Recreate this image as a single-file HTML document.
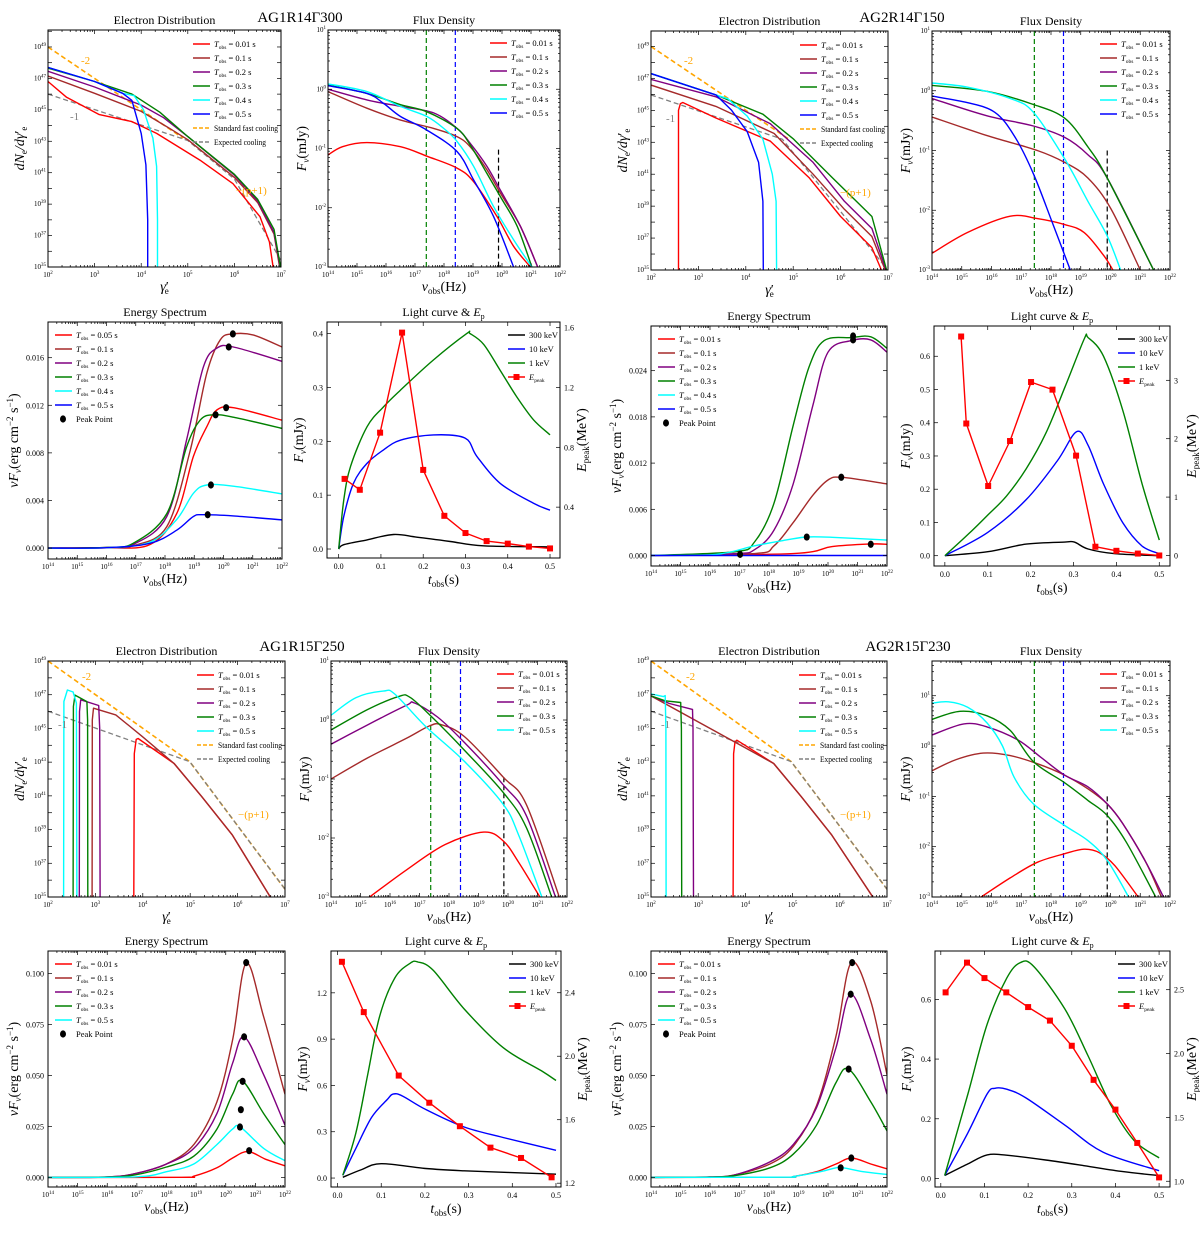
<!DOCTYPE html>
<html><head><meta charset="utf-8"><title>GRB simulation panels</title>
<style>
html,body{margin:0;padding:0;background:#fff;}
svg{display:block;font-family:"Liberation Serif",serif;}
</style></head>
<body>
<svg id="fig" width="1200" height="1239" viewBox="0 0 1200 1239" xmlns="http://www.w3.org/2000/svg">
<rect x="0" y="0" width="1200" height="1239" fill="#fff"/>
<text x="300" y="22" font-size="15" text-anchor="middle">AG1R14Γ300</text>
<text x="902" y="22" font-size="15" text-anchor="middle">AG2R14Γ150</text>
<text x="302" y="651" font-size="15" text-anchor="middle">AG1R15Γ250</text>
<text x="908" y="651" font-size="15" text-anchor="middle">AG2R15Γ230</text>
</svg>
<script>
// ================= DATA (log10 values for log axes; energy spectrum in units of 1e-3) =================
// ---- Group A: AG1R14Γ300 ----
const A_ed_t001=[[2,46.8],[2.4,45.8],[3.1,44.7],[3.8,44.25],[4.33,43.5],[5.26,41.8],[5.97,40.3],[6.55,38.2],[6.75,36.6],[6.83,35]];
const A_ed_t01=[[2,47.15],[3,46.05],[4,44.9],[4.62,43.8],[5,43.1],[6,40.7],[6.5,39.1],[6.85,37.1],[6.97,35]];
const A_ed_t02=[[2,47.45],[3,46.45],[4,45.3],[4.48,44.5],[5,43.3],[6,40.85],[6.5,39.2],[6.85,37.2],[6.98,35]];
const A_ed_t03=[[2,47.65],[3,46.8],[3.8,46],[4.4,44.85],[5,43.3],[6,40.9],[6.5,39.3],[6.85,37.4],[6.99,35]];
const A_ed_t04=[[2,47.7],[3,46.8],[3.6,46.05],[3.85,45.9],[4.05,45],[4.25,43.2],[4.33,41.4],[4.35,38],[4.35,35]];
const A_ed_t05=[[2,47.7],[3,46.8],[3.6,46.05],[3.8,45.6],[4.0,43.5],[4.1,41.5],[4.14,38],[4.14,35]];
const A_ed_fast=[[2,49],[4.9,43.2]];
const A_ed_exp=[[2,46],[5,43.05],[6,40.6],[7,35.4]];
const A_fd_t001=[[14,-1.11],[14.5,-0.97],[15.34,-0.9],[16.5,-0.97],[17.41,-1.13],[18.45,-1.33],[19.02,-1.56],[19.83,-2.15],[20.4,-2.65],[20.98,-3]];
const A_fd_t01=[[14,-0.04],[15.34,-0.32],[16.5,-0.52],[17.64,-0.66],[18.45,-0.8],[18.9,-0.97],[19.48,-1.36],[19.94,-1.75],[20.63,-2.31],[21.23,-3]];
const A_fd_t02=[[14,0],[15.34,-0.18],[16.5,-0.29],[17.64,-0.4],[18.45,-0.66],[18.9,-0.91],[19.48,-1.3],[19.94,-1.7],[20.63,-2.31],[21.23,-3]];
const A_fd_t03=[[14,0.07],[15.34,-0.07],[16.5,-0.26],[17.41,-0.38],[18.45,-0.66],[18.9,-0.94],[19.48,-1.42],[19.94,-1.81],[20.52,-2.31],[21.03,-3]];
const A_fd_t04=[[14,0.09],[15.34,-0.04],[16.5,-0.29],[17.41,-0.46],[17.99,-0.66],[18.45,-0.88],[19.02,-1.3],[19.71,-1.98],[20.4,-2.54],[21.03,-3]];
const A_fd_t05=[[14,0.06],[15.34,-0.07],[15.92,-0.24],[16.5,-0.46],[17.41,-0.69],[18.45,-1.05],[19.02,-1.53],[19.71,-2.15],[20.4,-3]];
const A_fd_vlines=[17.39,18.39,19.88];
const A_es_t005=[[14,0],[16,0.02],[17.49,0.3],[18.4,2.9],[18.97,7.7],[19.43,10.2],[19.77,11.6],[20.34,11.8],[22,10.75]];
const A_es_t01=[[14,0],[16,0.03],[16.91,0.2],[18.06,1.8],[18.86,8.2],[19.43,14.7],[19.89,17.5],[20.34,18.0],[21.03,17.9],[22,16.9]];
const A_es_t02=[[14,0],[16,0.05],[16.91,0.3],[18.06,2.65],[18.74,9.1],[19.31,15.2],[19.77,16.8],[20.34,16.9],[22,15.7]];
const A_es_t03=[[14,0],[16,0.05],[16.91,0.4],[18.06,2.9],[18.74,8.5],[19.2,10.75],[19.66,11.2],[20.34,11.0],[22,10.06]];
const A_es_t04=[[14,0],[16,0.03],[17.49,0.5],[18.4,2.4],[18.97,4.6],[19.43,5.3],[20.34,5.2],[22,4.55]];
const A_es_t05=[[14,0],[16,0.03],[17.49,0.4],[18.4,1.5],[18.97,2.65],[19.31,2.8],[20.34,2.7],[22,2.37]];
const A_es_peakx=[20.09,20.32,20.18,19.73,19.57,19.46];
const A_es_peaky=[11.8,18.0,16.9,11.2,5.3,2.8];
const A_lc_1kev=[[0,0],[0.012,0.09],[0.028,0.153],[0.067,0.227],[0.106,0.264],[0.146,0.295],[0.224,0.351],[0.303,0.4],[0.311,0.4],[0.343,0.38],[0.382,0.332],[0.421,0.283],[0.461,0.24],[0.5,0.212]];
const A_lc_10kev=[[0,0],[0.012,0.06],[0.035,0.122],[0.067,0.159],[0.106,0.184],[0.146,0.202],[0.224,0.212],[0.299,0.206],[0.327,0.172],[0.382,0.122],[0.461,0.085],[0.5,0.072]];
const A_lc_300kev=[[0,0],[0.012,0.008],[0.067,0.017],[0.13,0.027],[0.185,0.022],[0.264,0.014],[0.342,0.006],[0.5,0.004]];
const A_lc_ep_t=[0.014,0.05,0.098,0.15,0.2,0.25,0.3,0.35,0.4,0.45,0.5];
const A_lc_ep=[0.589,0.516,0.898,1.567,0.649,0.342,0.227,0.173,0.156,0.136,0.124];
// ---- Group B: AG2R14Γ150 ----
const B_ed_t001=[[2.58,35],[2.58,45.0],[2.62,45.42],[2.67,45.49],[3.37,44.52],[4.52,43.07],[5.34,40.77],[6.0,38.35],[6.66,36.4],[6.86,35]];
const B_ed_t01=[[2,46.58],[3.37,45.25],[4.6,43.55],[5.42,41.0],[6.08,38.8],[6.66,37.1],[6.94,35]];
const B_ed_t02=[[2,46.94],[3.37,45.85],[4.52,44.16],[5.42,41.74],[6.08,39.3],[6.66,37.6],[6.96,35]];
const B_ed_t03=[[2,47.3],[3.37,45.97],[4.36,44.76],[5.01,43.19],[5.83,40.77],[6.66,38.35],[6.97,35]];
const B_ed_t04=[[2,47.3],[3.37,45.97],[3.62,45.73],[4.03,44.64],[4.36,43.19],[4.56,41.0],[4.64,39.3],[4.65,35]];
const B_ed_t05=[[2,47.3],[3.37,45.97],[3.7,45.0],[4.03,43.67],[4.27,41.74],[4.36,39.3],[4.37,35]];
const B_ed_fast=[[2,49],[4.93,43.15]];
const B_ed_exp=[[2,45.97],[4.77,43.19],[6.94,35.2]];
const B_fd_t001=[[14,-2.72],[15.2,-2.37],[16.63,-2.1],[17.54,-2.14],[18.46,-2.24],[19.11,-2.37],[19.76,-2.75],[20.08,-3]];
const B_fd_t01=[[14,-0.44],[15.85,-0.75],[17.54,-1.0],[18.46,-1.2],[19.24,-1.46],[20.02,-1.98],[21.0,-3]];
const B_fd_t02=[[14,-0.13],[15.85,-0.42],[17.41,-0.59],[18.46,-0.78],[19.24,-1.07],[19.89,-1.46],[21.45,-3]];
const B_fd_t03=[[14,0.09],[15.85,-0.01],[17.41,-0.23],[18.46,-0.46],[19.24,-0.94],[19.89,-1.46],[21.45,-3]];
const B_fd_t04=[[14,0.13],[15.2,0.06],[16.63,-0.13],[17.41,-0.36],[18.46,-1.14],[19.24,-1.85],[19.89,-2.43],[20.34,-3]];
const B_fd_t05=[[14,-0.09],[15.2,-0.2],[16.11,-0.36],[16.76,-0.75],[17.41,-1.39],[18.07,-2.24],[18.65,-3]];
const B_fd_vlines=[17.44,18.42,19.89];
const B_es_t001=[[14,0],[18.82,0.25],[20.14,1.16],[21.45,1.5],[22,1.46]];
const B_es_t01=[[14,0],[17.51,0.25],[18.17,1.26],[18.82,4.28],[19.48,7.8],[20.0,9.8],[20.47,10.16],[22,9.3]];
const B_es_t02=[[14,0],[16.85,0.25],[17.51,0.75],[18.17,3.3],[18.82,9.3],[19.48,19.4],[20.0,26.4],[20.79,27.9],[21.45,28.0],[22,26.4]];
const B_es_t03=[[14,0],[16.85,0.5],[17.51,1.76],[18.17,6.8],[18.82,16.9],[19.35,24.4],[19.87,27.9],[20.79,28.3],[21.45,28.4],[22,26.9]];
const B_es_t04=[[14,0],[16.2,0.15],[17.51,1.26],[18.56,2.0],[19.28,2.4],[20.14,2.36],[22,2.0]];
const B_es_t05=[[14,0],[22,0]];
const B_es_peakx=[21.45,20.45,20.85,20.85,19.28,17.02];
const B_es_peaky=[1.46,10.16,28.0,28.5,2.4,0.15];
const B_lc_1kev=[[0,0],[0.054,0.064],[0.1,0.122],[0.144,0.18],[0.19,0.262],[0.235,0.367],[0.28,0.507],[0.325,0.652],[0.334,0.656],[0.37,0.6],[0.415,0.437],[0.46,0.216],[0.5,0.047]];
const B_lc_10kev=[[0,0],[0.1,0.07],[0.19,0.169],[0.262,0.285],[0.307,0.373],[0.334,0.332],[0.37,0.216],[0.415,0.099],[0.46,0.029],[0.5,0.006]];
const B_lc_300kev=[[0,0],[0.1,0.012],[0.19,0.035],[0.28,0.041],[0.302,0.041],[0.334,0.02],[0.397,0.006],[0.5,0]];
const B_lc_ep_t=[0.038,0.05,0.101,0.152,0.201,0.251,0.306,0.351,0.4,0.45,0.5];
const B_lc_ep=[3.75,2.26,1.19,1.96,2.97,2.84,1.71,0.15,0.08,0.033,0];
// ---- Group C: AG1R15Γ250 ----
const C_ed_t001=[[3.81,35],[3.82,43.5],[3.86,44.35],[3.9,44.4],[4.66,42.92],[5.24,40.97],[5.89,38.67],[6.69,35]];
const C_ed_t01=[[2.93,35],[2.935,45.5],[2.96,46.2],[3.43,45.8],[4.0,44.5],[4.66,42.92],[5.24,40.97],[5.89,38.67],[6.69,35]];
const C_ed_t02=[[2.66,35],[2.665,46],[2.69,46.7],[3.07,46.36],[3.09,45],[3.1,35]];
const C_ed_t03=[[2.53,35],[2.535,46.3],[2.57,46.98],[2.82,46.59],[2.835,45.5],[2.84,35]];
const C_ed_t05=[[2.33,35],[2.335,46.6],[2.41,47.28],[2.53,47.16],[2.6,46.5],[2.61,35]];
const C_ed_fast=[[2,49],[4.99,43.03],[7,35.46]];
const C_ed_exp=[[2,46.02],[4.99,43.03],[7,35.46]];
const C_fd_t001=[[15.31,-3],[16.56,-2.54],[17.87,-2.11],[19.18,-1.9],[19.84,-2.05],[20.36,-2.41],[21.08,-3]];
const C_fd_t01=[[14,-1.0],[15.25,-0.64],[16.56,-0.31],[17.34,-0.1],[17.74,-0.08],[18.52,-0.28],[19.84,-0.97],[20.62,-1.43],[21.74,-3]];
const C_fd_t02=[[14,-0.41],[15.25,-0.08],[16.56,0.25],[16.82,0.29],[17.61,0.05],[18.52,-0.38],[19.84,-1.1],[20.62,-1.62],[21.61,-3]];
const C_fd_t03=[[14,-0.17],[15.25,0.18],[16.3,0.4],[16.69,0.38],[17.48,0.02],[18.52,-0.51],[19.84,-1.23],[20.62,-1.82],[21.48,-3]];
const C_fd_t05=[[14,0.08],[14.85,0.38],[15.77,0.49],[16.16,0.44],[17.21,-0.11],[18.52,-0.7],[19.84,-1.43],[20.36,-1.95],[21.15,-3]];
const C_fd_vlines=[17.38,18.39,19.86];
const C_es_t001=[[14,0],[18.5,0.05],[18.92,0.6],[19.7,4.7],[20.23,9.5],[20.75,12.7],[21.35,8.9],[22,5.7]];
const C_es_t01=[[14,0],[16,0.2],[16.95,1.9],[18.0,6.6],[18.92,16.1],[19.7,37],[20.23,67.4],[20.69,105],[21.28,78.7],[22,40.8]];
const C_es_t02=[[14,0],[16,0.2],[16.95,1.9],[18.0,6.6],[18.92,14.2],[19.7,31.3],[20.23,56],[20.62,68.9],[21.28,50.3],[22,25.6]];
const C_es_t03=[[14,0],[16,0.15],[16.95,1.3],[18.0,5.1],[18.92,10.4],[19.7,23.7],[20.23,40.8],[20.56,47.4],[21.28,31.3],[22,16.1]];
const C_es_t05=[[14,0],[17,0.3],[18.0,2.8],[18.92,6.6],[19.7,16.1],[20.23,23.7],[20.49,24.7],[21.28,14.2],[22,8.2]];
const C_es_peakx=[20.79,20.69,20.62,20.57,20.51,20.48];
const C_es_peaky=[13.1,105.3,68.9,47.1,33.2,24.7];
const C_lc_1kev=[[0.012,0.018],[0.042,0.293],[0.069,0.67],[0.096,1.045],[0.131,1.296],[0.166,1.391],[0.184,1.4],[0.219,1.346],[0.29,1.095],[0.379,0.845],[0.467,0.694],[0.5,0.632]];
const C_lc_10kev=[[0.012,0.018],[0.042,0.193],[0.078,0.393],[0.113,0.506],[0.127,0.544],[0.149,0.531],[0.202,0.444],[0.29,0.331],[0.379,0.263],[0.5,0.18]];
const C_lc_300kev=[[0.012,0.005],[0.055,0.055],[0.1,0.093],[0.202,0.062],[0.29,0.047],[0.5,0.025]];
const C_lc_ep_t=[0.01,0.06,0.14,0.21,0.28,0.35,0.42,0.49];
const C_lc_ep=[2.595,2.278,1.878,1.707,1.559,1.424,1.359,1.237];
// ---- Group D: AG2R15Γ230 ----
const D_ed_t001=[[3.74,35],[3.75,43.5],[3.78,44.2],[3.82,44.3],[4.6,42.92],[5.18,40.97],[5.83,38.67],[6.7,35]];
const D_ed_t01=[[2,46.93],[4.6,42.92],[5.18,40.97],[5.83,38.67],[6.7,35]];
const D_ed_t02=[[2,46.93],[2.39,46.48],[2.88,46.13],[2.89,45],[2.9,35]];
const D_ed_t03=[[2,46.93],[2.3,46.64],[2.63,46.54],[2.645,45],[2.65,35]];
const D_ed_t05=[[2,47.05],[2.26,46.89],[2.3,46.95],[2.315,45],[2.32,35]];
const D_ed_fast=[[2,49],[4.97,43.03],[7,35.46]];
const D_ed_exp=[[2,46.02],[4.97,43.03],[7,35.46]];
const D_fd_t001=[[15.65,-3],[16.63,-2.62],[17.54,-2.31],[18.46,-2.14],[19.11,-2.05],[19.63,-2.12],[20.15,-2.38],[20.93,-3]];
const D_fd_t01=[[14,-0.49],[14.81,-0.27],[15.72,-0.14],[16.63,-0.19],[17.54,-0.35],[18.46,-0.58],[19.24,-0.85],[19.89,-1.15],[20.41,-1.54],[21.19,-2.31],[21.71,-3]];
const D_fd_t02=[[14,0.22],[15.07,0.44],[15.85,0.38],[16.89,0.12],[17.67,-0.23],[18.46,-0.58],[19.24,-0.81],[19.89,-1.15],[20.41,-1.54],[21.19,-2.31],[21.78,-3]];
const D_fd_t03=[[14,0.53],[14.94,0.69],[15.85,0.6],[16.63,0.31],[17.41,-0.31],[18.46,-0.73],[19.24,-1.08],[19.89,-1.38],[20.54,-1.92],[21.52,-3]];
const D_fd_t05=[[14,0.85],[14.55,0.88],[15.2,0.77],[15.85,0.46],[16.37,0.0],[16.76,-0.62],[17.41,-1.15],[18.46,-1.58],[19.24,-1.88],[19.89,-2.27],[20.61,-3]];
const D_fd_vlines=[17.44,18.42,19.89];
const D_es_t001=[[14,0],[18.5,0.1],[18.82,0.4],[19.61,2.8],[20.27,6.6],[20.79,9.5],[21.45,6.6],[22,4.2]];
const D_es_t01=[[14,0],[16,0.2],[16.85,1.3],[18.03,6.6],[18.82,15.2],[19.61,35.1],[20.27,69.3],[20.79,105.3],[21.45,86.3],[22,50.3]];
const D_es_t02=[[14,0],[16,0.2],[16.85,1.3],[18.03,7.6],[18.82,16.1],[19.61,34.2],[20.27,63.6],[20.77,89.8],[21.45,67.4],[22,40.8]];
const D_es_t03=[[14,0],[16,0.15],[16.85,0.9],[18.03,4.7],[18.82,11.4],[19.61,25.6],[20.27,46.5],[20.7,53.1],[21.45,37],[22,22.8]];
const D_es_t05=[[14,0],[18.5,0.1],[18.82,0.4],[19.74,2.8],[20.27,4.7],[20.46,4.9],[21.19,2.8],[22,1.5]];
const D_es_peakx=[20.79,20.82,20.77,20.7,20.43];
const D_es_peaky=[9.5,105.3,89.8,53.1,4.7];
const D_lc_1kev=[[0.009,0.01],[0.062,0.283],[0.106,0.516],[0.151,0.671],[0.182,0.723],[0.213,0.71],[0.284,0.568],[0.337,0.412],[0.39,0.244],[0.443,0.127],[0.5,0.069]];
const D_lc_10kev=[[0.009,0.01],[0.062,0.153],[0.106,0.283],[0.124,0.302],[0.151,0.299],[0.195,0.27],[0.284,0.179],[0.372,0.088],[0.5,0.026]];
const D_lc_300kev=[[0.009,0.01],[0.062,0.049],[0.106,0.079],[0.151,0.078],[0.24,0.062],[0.328,0.043],[0.417,0.023],[0.5,0.01]];
const D_lc_ep_t=[0.011,0.06,0.1,0.15,0.2,0.25,0.3,0.35,0.4,0.45,0.5];
const D_lc_ep=[2.479,2.712,2.591,2.479,2.364,2.258,2.061,1.794,1.561,1.3,1.03];
// tick label arrays
const ED_yticks=[35,37,39,41,43,45,47,49];
const ED_xticks=[2,3,4,5,6,7];
const NU_xticks=[14,15,16,17,18,19,20,21,22];
const FD_yticks=[-3,-2,-1,0,1];
const A_es_yticks=[0,4,8,12,16];
const B_es_yticks=[0,6,12,18,24];
const CD_es_yticks=[0,25,50,75,100];
const LC_xticks=[0,0.1,0.2,0.3,0.4,0.5];
const A_lc_yticks=[0,0.1,0.2,0.3,0.4], A_lc_y2ticks=[0.4,0.8,1.2,1.6];
const B_lc_yticks=[0,0.1,0.2,0.3,0.4,0.5,0.6], B_lc_y2ticks=[0,1,2,3];
const C_lc_yticks=[0,0.3,0.6,0.9,1.2], C_lc_y2ticks=[1.2,1.6,2.0,2.4];
const D_lc_yticks=[0,0.2,0.4,0.6], D_lc_y2ticks=[1.0,1.5,2.0,2.5];
const T_labels_A=['0.01','0.1','0.2','0.3','0.4','0.5'];
const T_labels_Aes=['0.05','0.1','0.2','0.3','0.4','0.5'];
const T_labels_C=['0.01','0.1','0.2','0.3','0.5'];

// ================= DRAWING =================
const NS='http://www.w3.org/2000/svg';
const svg=document.getElementById('fig');
const COL={red:'#ff0000',brown:'#a52a2a',purple:'#800080',green:'#008000',cyan:'#00ffff',blue:'#0000ff',orange:'#ffa500',gray:'#808080',black:'#000'};
let clipN=0;
function mk(tag,attrs,name,parent){
  const e=document.createElementNS(NS,tag);
  for(const k in attrs) e.setAttribute(k,attrs[k]);
  
  
  (parent||svg).appendChild(e);
  return e;
}
function scale(d0,d1,p0,p1){return v=>p0+(v-d0)/(d1-d0)*(p1-p0);}
function tsp(parent,txt,attrs){const t=document.createElementNS(NS,'tspan');for(const k in (attrs||{}))t.setAttribute(k,attrs[k]);t.textContent=txt;parent.appendChild(t);return t;}
function pow10(parent,x,y,exp,anchor,name){
  const t=mk('text',{x:x,y:y,'font-size':7,'text-anchor':anchor},name,parent);
  tsp(t,'10');tsp(t,String(exp),{'font-size':5,dy:-3});
  return t;
}
function smoothPath(pts){
  if(pts.length<3) return 'M'+pts.map(p=>p[0].toFixed(1)+','+p[1].toFixed(1)).join('L');
  let d='M'+pts[0][0].toFixed(1)+','+pts[0][1].toFixed(1);
  for(let i=0;i<pts.length-1;i++){
    const p0=pts[Math.max(0,i-1)],p1=pts[i],p2=pts[i+1],p3=pts[Math.min(pts.length-1,i+2)];
    const c1=[p1[0]+(p2[0]-p0[0])/6,p1[1]+(p2[1]-p0[1])/6];
    const c2=[p2[0]-(p3[0]-p1[0])/6,p2[1]-(p3[1]-p1[1])/6];
    d+='C'+c1[0].toFixed(1)+','+c1[1].toFixed(1)+' '+c2[0].toFixed(1)+','+c2[1].toFixed(1)+' '+p2[0].toFixed(1)+','+p2[1].toFixed(1);
  }
  return d;
}
function panel(name,r,xr,yr,title){
  const g=mk('g',{},name);
  const P={g:g,r:r,sx:scale(xr[0],xr[1],r[0],r[2]),sy:scale(yr[0],yr[1],r[3],r[1]),xr:xr,yr:yr};
  clipN++;
  const cp=mk('clipPath',{id:'cp'+clipN},name+'-clip',g);
  mk('rect',{x:r[0],y:r[1],width:r[2]-r[0],height:r[3]-r[1]},name+'-clip-rect',cp);
  P.plot=mk('g',{'clip-path':'url(#cp'+clipN+')'},name+'-plot-area',g);
  mk('text',{x:(r[0]+r[2])/2,y:r[1]-6,'font-size':12,'text-anchor':'middle'},name+'-title',g).textContent=title;
  return P;
}
function frame(P){
  const r=P.r;
  mk('rect',{x:r[0],y:r[1],width:r[2]-r[0],height:r[3]-r[1],fill:'none',stroke:'#000','stroke-width':1},'plot-frame',P.g);
}
function tickLine(P,x1,y1,x2,y2,name){mk('line',{x1:x1,y1:y1,x2:x2,y2:y2,stroke:'#000','stroke-width':0.7},name,P.g);}
function logXTicks(P,labels){
  const r=P.r;
  for(let d=Math.floor(P.xr[0]);d<=Math.ceil(P.xr[1]);d++){
    for(let m=1;m<10;m++){
      const v=d+Math.log10(m); if(v<P.xr[0]-1e-6||v>P.xr[1]+1e-6) continue;
      const x=P.sx(v), L=m===1?4:2;
      tickLine(P,x,r[3],x,r[3]-L,'x-tick');tickLine(P,x,r[1],x,r[1]+L,'x-tick-top');
    }
  }
  labels.forEach(e=>{pow10(P.g,P.sx(e),r[3]+10,e,'middle','x-tick-label');});
}
function logYTicks(P,labels,minor){
  const r=P.r;
  for(let d=Math.floor(P.yr[0]);d<=Math.ceil(P.yr[1]);d++){
    const ms=minor?[1,2,3,4,5,6,7,8,9]:[1];
    ms.forEach(m=>{
      const v=d+Math.log10(m); if(v<P.yr[0]-1e-6||v>P.yr[1]+1e-6) return;
      const y=P.sy(v), L=m===1?4:2;
      tickLine(P,r[0],y,r[0]+L,y,'y-tick');tickLine(P,r[2],y,r[2]-L,y,'y-tick-right');
    });
  }
  labels.forEach(e=>{pow10(P.g,r[0]-2,P.sy(e)+2,e,'end','y-tick-label');});
}
function linXTicks(P,vals,fmt){
  const r=P.r;
  vals.forEach(v=>{const x=P.sx(v);tickLine(P,x,r[3],x,r[3]-4,'x-tick');tickLine(P,x,r[1],x,r[1]+4,'x-tick-top');
    mk('text',{x:x,y:r[3]+11,'font-size':8,'text-anchor':'middle'},'x-tick-label',P.g).textContent=fmt(v);});
}
function linYTicks(P,vals,fmt,sy,side){
  const r=P.r;
  vals.forEach(v=>{const y=sy(v);
    if(side==='right'){tickLine(P,r[2],y,r[2]-4,y,'y2-tick');
      mk('text',{x:r[2]+4,y:y+3,'font-size':8,'text-anchor':'start'},'y2-tick-label',P.g).textContent=fmt(v);}
    else{tickLine(P,r[0],y,r[0]+4,y,'y-tick');if(!P.hasY2)tickLine(P,r[2],y,r[2]-4,y,'y-tick-right');
      mk('text',{x:r[0]-4,y:y+3,'font-size':8,'text-anchor':'end'},'y-tick-label',P.g).textContent=fmt(v);}
  });
}
function series(P,pts,color,name,opts){
  opts=opts||{};
  const sy=opts.sy||P.sy;
  const px=pts.map(p=>[P.sx(p[0]),sy(p[1])]);
  const d=opts.smooth?smoothPath(px):'M'+px.map(p=>p[0].toFixed(1)+','+p[1].toFixed(1)).join('L');
  const a={d:d,fill:'none',stroke:color,'stroke-width':opts.w||1.4,'stroke-linejoin':'round'};
  if(opts.dash) a['stroke-dasharray']=opts.dash;
  return mk('path',a,name,P.plot);
}
function vline(P,x,yTop,color,name){
  const a={x1:P.sx(x),x2:P.sx(x),y1:yTop==null?P.r[1]:P.sy(yTop),y2:P.r[3],stroke:color,'stroke-width':1.2,'stroke-dasharray':'5,3'};
  mk('line',a,name,P.plot);
}
function tLabel(parent,x,y,val,name){
  const t=mk('text',{x:x,y:y,'font-size':8.5},name,parent);
  tsp(t,'T',{'font-style':'italic'});tsp(t,'obs',{'font-size':5.5,dy:2});tsp(t,' = '+val+' s',{dy:-2});
  return t;
}
function legend(P,x,y,dy,entries){
  const lg=mk('g',{},'legend',P.g);
  entries.forEach((e,i)=>{
    const yy=y+i*dy;
    if(e.marker==='dot'){mk('ellipse',{cx:x+8,cy:yy,rx:3,ry:3.6,fill:'#000'},'legend-marker-peak-point',lg);}
    else{
      const a={x1:x,x2:x+17,y1:yy,y2:yy,stroke:e.color,'stroke-width':1.6};
      if(e.dash)a['stroke-dasharray']=e.dash;
      mk('line',a,'legend-line-'+e.key,lg);
      if(e.marker==='sq')mk('rect',{x:x+5.5,y:yy-3,width:6,height:6,fill:COL.red},'legend-marker-epeak',lg);
    }
    if(e.t){tLabel(lg,x+21,yy+3,e.t,'legend-label-'+e.key);}
    else if(e.key==='epeak'){const t=mk('text',{x:x+21,y:yy+3,'font-size':8.5},'legend-label-epeak',lg);tsp(t,'E',{'font-style':'italic'});tsp(t,'peak',{'font-size':5.5,dy:2});}
    else{
      const a={x:x+21,y:yy+3,'font-size':e.fs||8.5};
      if(e.tl){a.textLength=e.tl;a.lengthAdjust='spacingAndGlyphs';}
      mk('text',a,'legend-label-'+e.key,lg).textContent=e.label;
    }
  });
}
function axLabelX(P,dy,parts,name){
  const t=mk('text',{x:(P.r[0]+P.r[2])/2,y:P.r[3]+dy,'font-size':14,'text-anchor':'middle'},name,P.g);
  parts.forEach(p=>tsp(t,p[0],p[1]||{}));
}
function axLabelY(P,x,parts,name){
  const cy=(P.r[1]+P.r[3])/2;
  const t=mk('text',{x:x,y:cy,'font-size':14,'text-anchor':'middle',transform:'rotate(-90 '+x+' '+cy+')'},name,P.g);
  parts.forEach(p=>tsp(t,p[0],p[1]||{}));
}
const SUB={'font-size':9,dy:3}, UNSUB={dy:-3}, SUP={'font-size':9,dy:-5}, UNSUP={dy:5}, IT={'font-style':'italic'};
const TCOLS=[COL.red,COL.brown,COL.purple,COL.green,COL.cyan,COL.blue];
const TCOLS5=[COL.red,COL.brown,COL.purple,COL.green,COL.cyan];

function edPanel(name,r,ymax,sets,lbls,fast,exp,ann){
  const P=panel(name,r,[2,7],[35,ymax],'Electron Distribution');
  fast&&series(P,fast,COL.orange,'standard-fast-cooling-line',{dash:'5,3',w:1.6});
  exp&&series(P,exp,COL.gray,'expected-cooling-line',{dash:'5,3',w:1.3});
  sets.forEach((s,i)=>series(P,s.d,s.c,'electron-curve-t'+lbls[i],{}));
  frame(P);logXTicks(P,ED_xticks);logYTicks(P,ED_yticks,false);
  const ents=sets.map((s,i)=>({color:s.c,t:lbls[i],key:'t'+lbls[i]}));
  ents.push({color:COL.orange,dash:'4,2',label:'Standard fast cooling',key:'fast-cooling',fs:8,tl:64});
  ents.push({color:COL.gray,dash:'4,2',label:'Expected cooling',key:'expected-cooling',fs:8,tl:52});
  legend(P,r[2]-88,r[1]+14,14,ents);
  mk('text',{x:ann[0][0],y:ann[0][1],'font-size':11,fill:COL.orange},'slope-label-minus2',P.g).textContent='-2';
  mk('text',{x:ann[1][0],y:ann[1][1],'font-size':11,fill:COL.gray},'slope-label-minus1',P.g).textContent='-1';
  mk('text',{x:ann[2][0],y:ann[2][1],'font-size':11,fill:COL.orange},'slope-label-p-plus-1',P.g).textContent='−(p+1)';
  axLabelX(P,24,[['γ',IT],['′',{}],['e',{'font-size':9,dy:3,dx:-4}]],'x-axis-title');
  axLabelY(P,r[0]-24,[['dN',IT],['e',SUB],['/dγ',{'font-style':'italic',dy:-3}],['′',{}],['e',SUB]],'y-axis-title');
  return P;
}
function fdPanel(name,r,ymax,sets,lbls,vl,blkTop){
  const P=panel(name,r,[14,22],[-3,ymax],'Flux Density');
  vline(P,vl[0],null,COL.green,'vline-1kev');
  vline(P,vl[1],null,COL.blue,'vline-10kev');
  vline(P,vl[2],blkTop,COL.black,'vline-300kev');
  sets.forEach((s,i)=>series(P,s.d,s.c,'flux-curve-t'+lbls[i],{smooth:true}));
  frame(P);logXTicks(P,NU_xticks);logYTicks(P,FD_yticks.filter(v=>v<=ymax),true);
  legend(P,r[2]-70,r[1]+13,14,sets.map((s,i)=>({color:s.c,t:lbls[i],key:'t'+lbls[i]})));
  axLabelX(P,24,[['ν',IT],['obs',SUB],['(Hz)',UNSUB]],'x-axis-title');
  axLabelY(P,r[0]-22,[['F',IT],['ν',{'font-size':9,dy:3,'font-style':'italic'}],['(mJy)',UNSUB]],'y-axis-title');
  return P;
}
function esPanel(name,r,yr,yt,sets,lbls,px,py){
  const P=panel(name,r,[14,22],yr,'Energy Spectrum');
  sets.forEach((s,i)=>series(P,s.d,s.c,'spectrum-curve-t'+lbls[i],{smooth:true}));
  px.forEach((x,i)=>{mk('ellipse',{cx:P.sx(x),cy:P.sy(py[i]),rx:3,ry:3.6,fill:'#000'},'peak-point',P.plot);});
  frame(P);logXTicks(P,NU_xticks);linYTicks(P,yt,v=>(v/1000).toFixed(3),P.sy);
  const ents=sets.map((s,i)=>({color:s.c,t:lbls[i],key:'t'+lbls[i]}));
  ents.push({marker:'dot',label:'Peak Point',key:'peak-point'});
  legend(P,r[0]+7,r[1]+13,14,ents);
  axLabelX(P,24,[['ν',IT],['obs',SUB],['(Hz)',UNSUB]],'x-axis-title');
  axLabelY(P,r[0]-30,[['νF',IT],['ν',{'font-size':9,dy:3,'font-style':'italic'}],['(erg cm',UNSUB],['−2',SUP],[' s',UNSUP],['−1',SUP],[')',UNSUP]],'y-axis-title');
  return P;
}
function lcPanel(name,r,xr,yr,y2r,yt,y2t,s1,s10,s300,ept,ep,yfmt){
  const P=panel(name,r,xr,yr,'');
  const ttl=P.g.querySelector('text');ttl.textContent='';
  tsp(ttl,'Light curve & ');tsp(ttl,'E',IT);tsp(ttl,'p',{'font-size':8,dy:3});
  P.hasY2=true;
  const sy2=scale(y2r[0],y2r[1],r[3],r[1]);
  series(P,s300,COL.black,'lightcurve-300kev',{smooth:true});
  series(P,s10,COL.blue,'lightcurve-10kev',{smooth:true});
  series(P,s1,COL.green,'lightcurve-1kev',{smooth:true});
  const epPts=ept.map((t,i)=>[t,ep[i]]);
  series(P,epPts,COL.red,'epeak-line',{sy:sy2});
  epPts.forEach(p=>{mk('rect',{x:P.sx(p[0])-3,y:sy2(p[1])-3,width:6,height:6,fill:COL.red},'epeak-marker',P.plot);});
  frame(P);linXTicks(P,LC_xticks,v=>v.toFixed(1));
  linYTicks(P,yt,yfmt,P.sy);linYTicks(P,y2t,v=>(Number.isInteger(v)&&y2t[1]-y2t[0]===1)?String(v):v.toFixed(1),sy2,'right');
  legend(P,r[2]-52,r[1]+13,14,[{color:COL.black,label:'300 keV',key:'300kev'},{color:COL.blue,label:'10 keV',key:'10kev'},{color:COL.green,label:'1 keV',key:'1kev'},{color:COL.red,marker:'sq',key:'epeak'}]);
  axLabelX(P,26,[['t',IT],['obs',SUB],['(s)',UNSUB]],'x-axis-title');
  axLabelY(P,r[0]-24,[['F',IT],['ν',{'font-size':9,dy:3,'font-style':'italic'}],['(mJy)',UNSUB]],'y-axis-title');
  const cy=(r[1]+r[3])/2,x2=r[2]+26;
  const t=mk('text',{x:x2,y:cy,'font-size':14,'text-anchor':'middle',transform:'rotate(-90 '+x2+' '+cy+')'},'y2-axis-title',P.g);
  tsp(t,'E',IT);tsp(t,'peak',SUB);tsp(t,'(MeV)',UNSUB);
  return P;
}
const f1=v=>v.toFixed(1);
function S(cols,arrs){return arrs.map((d,i)=>({d:d,c:cols[i]}));}

// Group A
edPanel('electron-distribution-a',[48,30,281,267],50.08,S(TCOLS,[A_ed_t001,A_ed_t01,A_ed_t02,A_ed_t03,A_ed_t04,A_ed_t05]),T_labels_A,A_ed_fast,A_ed_exp,[[81,64],[70,120],[236,194]]);
fdPanel('flux-density-a',[328,30,560,267],1,S(TCOLS,[A_fd_t001,A_fd_t01,A_fd_t02,A_fd_t03,A_fd_t04,A_fd_t05]),T_labels_A,A_fd_vlines,-1.02);
esPanel('energy-spectrum-a',[48,322,282,559],[-0.92,19.0],A_es_yticks,S(TCOLS,[A_es_t005,A_es_t01,A_es_t02,A_es_t03,A_es_t04,A_es_t05]),T_labels_Aes,A_es_peakx,A_es_peaky);
lcPanel('light-curve-a',[327,322,560,558],[-0.0276,0.5236],[-0.0167,0.4216],[0.06,1.638],A_lc_yticks,A_lc_y2ticks,A_lc_1kev,A_lc_10kev,A_lc_300kev,A_lc_ep_t,A_lc_ep,f1);
// Group B
edPanel('electron-distribution-b',[651,31,888,270],49.97,S(TCOLS,[B_ed_t001,B_ed_t01,B_ed_t02,B_ed_t03,B_ed_t04,B_ed_t05]),T_labels_A,B_ed_fast,B_ed_exp,[[684,64],[666,122],[840,196]]);
fdPanel('flux-density-b',[932,31,1170,270],1,S(TCOLS,[B_fd_t001,B_fd_t01,B_fd_t02,B_fd_t03,B_fd_t04,B_fd_t05]),T_labels_A,B_fd_vlines,-1.0);
esPanel('energy-spectrum-b',[651,326,887,566],[-1.36,29.8],B_es_yticks,S(TCOLS,[B_es_t001,B_es_t01,B_es_t02,B_es_t03,B_es_t04,B_es_t05]),T_labels_A,B_es_peakx,B_es_peaky);
lcPanel('light-curve-b',[934,326,1170,566],[-0.0253,0.525],[-0.031,0.691],[-0.18,3.93],B_lc_yticks,B_lc_y2ticks,B_lc_1kev,B_lc_10kev,B_lc_300kev,B_lc_ep_t,B_lc_ep,f1);
// Group C
edPanel('electron-distribution-c',[48,661,285,897],49,S(TCOLS5,[C_ed_t001,C_ed_t01,C_ed_t02,C_ed_t03,C_ed_t05]),T_labels_C,C_ed_fast,C_ed_exp,[[82,680],[58,728],[238,818]]);
fdPanel('flux-density-c',[331,661,567,897],1,S(TCOLS5,[C_fd_t001,C_fd_t01,C_fd_t02,C_fd_t03,C_fd_t05]),T_labels_C,C_fd_vlines,-0.97);
esPanel('energy-spectrum-c',[48,951,285,1187],[-4.7,111],CD_es_yticks,S(TCOLS5,[C_es_t001,C_es_t01,C_es_t02,C_es_t03,C_es_t05]),T_labels_C,C_es_peakx,C_es_peaky);
lcPanel('light-curve-c',[331,951,561,1187],[-0.015,0.5115],[-0.058,1.471],[1.176,2.663],C_lc_yticks,C_lc_y2ticks,C_lc_1kev,C_lc_10kev,C_lc_300kev,C_lc_ep_t,C_lc_ep,f1);
// Group D
edPanel('electron-distribution-d',[651,661,887,897],49,S(TCOLS5,[D_ed_t001,D_ed_t01,D_ed_t02,D_ed_t03,D_ed_t05]),T_labels_C,D_ed_fast,D_ed_exp,[[686,680],[661,728],[840,818]]);
fdPanel('flux-density-d',[932,661,1170,897],1.69,S(TCOLS5,[D_fd_t001,D_fd_t01,D_fd_t02,D_fd_t03,D_fd_t05]),T_labels_C,D_fd_vlines,-1.0);
esPanel('energy-spectrum-d',[651,951,887,1187],[-4.7,111],CD_es_yticks,S(TCOLS5,[D_es_t001,D_es_t01,D_es_t02,D_es_t03,D_es_t05]),T_labels_C,D_es_peakx,D_es_peaky);
lcPanel('light-curve-d',[935,951,1170,1187],[-0.0133,0.525],[-0.0285,0.762],[0.955,2.803],D_lc_yticks,D_lc_y2ticks,D_lc_1kev,D_lc_10kev,D_lc_300kev,D_lc_ep_t,D_lc_ep,f1);
</script>
</body></html>
